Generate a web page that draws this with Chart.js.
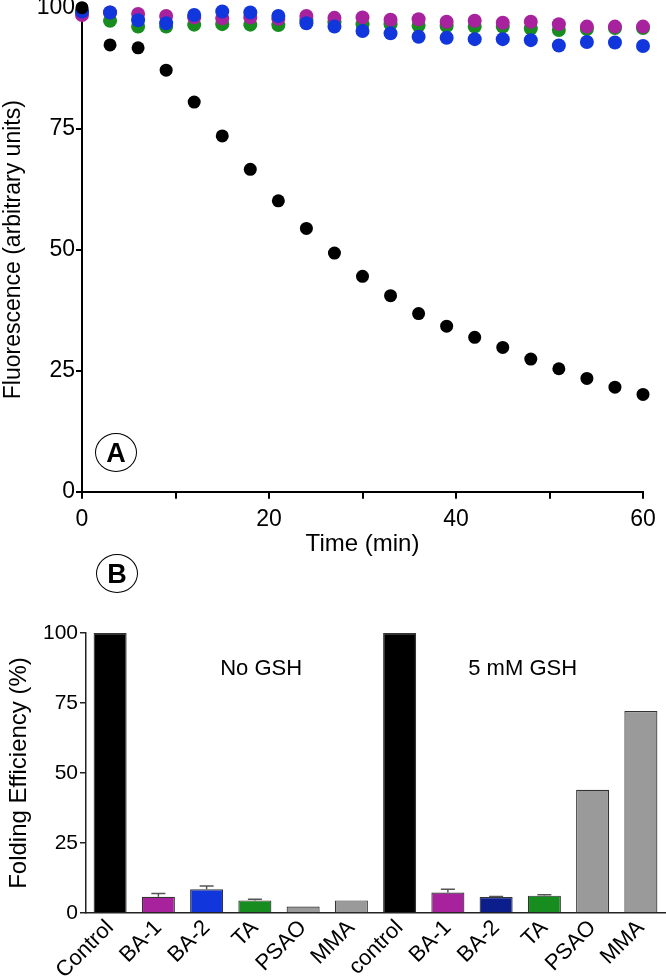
<!DOCTYPE html>
<html>
<head>
<meta charset="utf-8">
<script src="https://cdn.jsdelivr.net/npm/chart.js@4"></script>
<style>
  body { margin: 0; background: #fff; width: 666px; height: 979px; position: relative; overflow: hidden;
         font-family: "Liberation Sans", Arial, sans-serif; }
  #boxA { position: absolute; left: 0; top: -30px; width: 666px; height: 591px; }
  #boxB { position: absolute; left: 0; top: 600px; width: 666px; height: 379px; }
  .tag { position: absolute; width: 40px; height: 37px; border: 1px solid #000; border-radius: 50%;
         text-align: center; line-height: 38px; font-weight: bold; font-size: 27px; color: #000; }
</style>
</head>
<body>
<div id="boxA"><canvas id="fluor_chart"></canvas></div>
<div id="boxB"><canvas id="folding_chart"></canvas></div>
<div class="tag" style="left:95px; top:433px;">A</div>
<div class="tag" style="left:96px; top:554px;">B</div>

<script>
// Panel A: fluorescence over time (sampled every 3 min)
const times = [0, 3, 6, 9, 12, 15, 18, 21, 24, 27, 30, 33, 36, 39, 42, 45, 48, 51, 54, 57, 60];
const controlFluor = [100, 92.3, 91.7, 87.1, 80.5, 73.5, 66.6, 60.1, 54.4, 49.3, 44.5,
                      40.5, 36.8, 34.2, 31.9, 29.8, 27.4, 25.4, 23.4, 21.6, 20.1];
const ba1Fluor = [98.5, 99.0, 98.7, 98.3, 98.0, 97.8, 98.0, 97.7, 98.3, 97.9, 98.0,
                  97.5, 97.6, 97.1, 97.3, 96.9, 97.1, 96.6, 96.1, 96.1, 96.1];
const ba2Fluor = [99.2, 99.0, 97.4, 96.8, 98.5, 99.2, 99.0, 98.3, 96.8, 96.1, 95.2,
                  94.7, 94.0, 93.8, 93.5, 93.5, 93.3, 92.2, 92.9, 92.8, 92.1];
const taFluor = [99.0, 97.3, 96.1, 96.1, 96.5, 96.6, 96.5, 96.4, 97.4, 97.0, 96.6,
                 96.6, 96.3, 96.2, 96.1, 96.1, 95.7, 95.4, 95.6, 95.8, 95.8];

// Panel B: folding efficiency
const barLabels = ['Control', 'BA-1', 'BA-2', 'TA', 'PSAO', 'MMA',
                   'control', 'BA-1', 'BA-2', 'TA', 'PSAO', 'MMA'];
const barValues = [100, 5.8, 8.5, 4.5, 2.3, 4.5, 100, 7.3, 5.7, 6.2, 44.0, 72.1];
const barErrors = [0, 1.2, 1.1, 0.4, 0, 0, 0, 1.2, 0.2, 0.3, 0, 0];
const groupNotes = ['No GSH', '5 mM GSH'];
const groupNoteAt = [3.13, 8.55];
const noteLevel = 87;

const BLACK = '#000000', MAGENTA = '#a8229e', BLUE = '#1036dc', NAVY = '#0c1d8c',
      GREEN = '#178c1f', GREY = '#9a9a9a';
const barColors = [BLACK, MAGENTA, BLUE, GREEN, GREY, GREY, BLACK, MAGENTA, NAVY, GREEN, GREY, GREY];

const FONT = '"Liberation Sans", Arial, sans-serif';
Chart.defaults.font.family = FONT;
Chart.defaults.color = '#000';

const toPoints = (ys) => times.map((t, i) => ({ x: t, y: ys[i] }));

new Chart(document.getElementById('fluor_chart'), {
  type: 'scatter',
  data: {
    datasets: [
      { label: 'Control', data: toPoints(controlFluor), backgroundColor: BLACK, pointRadius: 6.5, borderWidth: 0, clip: false },
      { label: 'BA-2', data: toPoints(ba2Fluor), backgroundColor: BLUE, pointRadius: 7, borderWidth: 0, clip: false },
      { label: 'BA-1', data: toPoints(ba1Fluor), backgroundColor: MAGENTA, pointRadius: 7, borderWidth: 0, clip: false },
      { label: 'TA', data: toPoints(taFluor), backgroundColor: GREEN, pointRadius: 7, borderWidth: 0, clip: false }
    ]
  },
  options: {
    responsive: true,
    maintainAspectRatio: false,
    animation: false,
    layout: { padding: { top: 37.7, right: 23, left: 0, bottom: 0 } },
    plugins: { legend: { display: false }, tooltip: { enabled: false } },
    scales: {
      x: {
        type: 'linear', min: 0, max: 60,
        afterFit: (s) => { s.height = 69.3; },
        ticks: { stepSize: 10, autoSkip: false, maxRotation: 0, padding: 7, font: { size: 23 },
                 callback: (v) => (v % 20 === 0 ? v : '') },
        grid: { drawOnChartArea: false, tickLength: 7, color: '#000', lineWidth: 2 },
        border: { color: '#000', width: 2 },
        title: { display: true, text: 'Time (min)', font: { size: 24 }, padding: { top: 0, bottom: 2 } }
      },
      y: {
        min: 0, max: 100,
        afterFit: (s) => { s.width = 82; },
        ticks: { stepSize: 25, padding: 1, font: { size: 23 } },
        grid: { drawOnChartArea: false, tickLength: 6, color: '#000', lineWidth: 2 },
        border: { color: '#000', width: 2 },
        title: { display: true, text: 'Fluorescence (arbitrary units)', font: { size: 23 }, padding: { top: 0, bottom: 0 } }
      }
    }
  }
});

// error caps (upper only) and the two group notes
const extrasPlugin = {
  id: 'extras',
  afterDatasetsDraw(chart) {
    const ctx = chart.ctx;
    const meta = chart.getDatasetMeta(0);
    const y = chart.scales.y, x = chart.scales.x;
    ctx.save();
    ctx.strokeStyle = '#555';
    ctx.lineWidth = 1.5;
    barErrors.forEach((err, i) => {
      if (!err) return;
      const cx = meta.data[i].x;
      const y0 = y.getPixelForValue(barValues[i]);
      const y1 = y.getPixelForValue(barValues[i] + err);
      ctx.beginPath();
      ctx.moveTo(cx, y0); ctx.lineTo(cx, y1);
      ctx.moveTo(cx - 7, y1); ctx.lineTo(cx + 7, y1);
      ctx.stroke();
    });
    ctx.fillStyle = '#000';
    ctx.font = '22px ' + FONT;
    ctx.textAlign = 'center';
    ctx.textBaseline = 'middle';
    groupNotes.forEach((t, i) => {
      ctx.fillText(t, x.getPixelForValue(groupNoteAt[i]), y.getPixelForValue(noteLevel));
    });
    ctx.restore();
  }
};

new Chart(document.getElementById('folding_chart'), {
  type: 'bar',
  data: {
    labels: barLabels,
    datasets: [{
      data: barValues,
      backgroundColor: barColors,
      borderColor: '#333',
      borderWidth: 1.2,
      barPercentage: 0.685,
      categoryPercentage: 1
    }]
  },
  options: {
    responsive: true,
    maintainAspectRatio: false,
    animation: false,
    layout: { padding: { top: 33, right: 1, left: 0, bottom: 0 } },
    plugins: { legend: { display: false }, tooltip: { enabled: false } },
    scales: {
      x: {
        afterFit: (s) => { s.height = 66; },
        ticks: { autoSkip: false, minRotation: 45, maxRotation: 45, padding: 2, font: { size: 22 } },
        grid: { drawOnChartArea: false, drawTicks: false },
        border: { color: '#222', width: 1.5 }
      },
      y: {
        min: 0, max: 100,
        afterFit: (s) => { s.width = 86; },
        ticks: { stepSize: 25, padding: 2, font: { size: 21 } },
        grid: { drawOnChartArea: false, tickLength: 6, color: '#222', lineWidth: 1.5 },
        border: { color: '#222', width: 1.5 },
        title: { display: true, text: 'Folding Efficiency (%)', font: { size: 24 }, padding: { top: 5, bottom: 0 } }
      }
    }
  },
  plugins: [extrasPlugin]
});
</script>
</body>
</html>
